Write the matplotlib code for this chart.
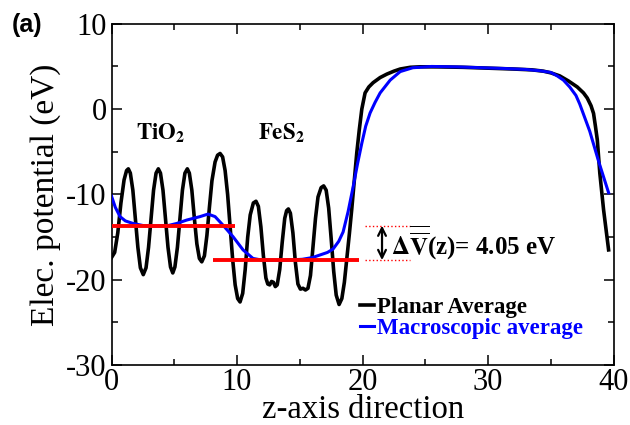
import matplotlib
matplotlib.use("Agg")
from matplotlib import pyplot as plt

plt.rcParams['font.family'] = ['Liberation Serif', 'DejaVu Serif']
plt.rcParams['mathtext.fontset'] = 'stix'
plt.rcParams['axes.unicode_minus'] = False

# planar average
z_planar = [0.00, 0.25, 0.50, 0.75, 1.00, 1.20, 1.34, 1.50, 1.70, 1.90, 2.10, 2.30, 2.53, 2.75, 2.95,
            3.15, 3.35, 3.55, 3.73, 3.90, 4.10, 4.30, 4.50, 4.70, 4.88, 5.05, 5.25, 5.45, 5.65, 5.85,
            6.04, 6.20, 6.40, 6.60, 6.80, 7.00, 7.19, 7.40, 7.60, 7.80, 8.00, 8.25, 8.45, 8.65, 8.85,
            9.05, 9.25, 9.45, 9.65, 9.85, 10.05, 10.24, 10.45, 10.65, 10.85, 11.05, 11.30, 11.51, 11.70,
            11.90, 12.10, 12.30, 12.45, 12.60, 12.75, 12.90, 13.05, 13.20, 13.40, 13.60, 13.80, 13.95,
            14.09, 14.25, 14.45, 14.65, 14.85, 15.05, 15.25, 15.45, 15.65, 15.85, 16.05, 16.25, 16.45,
            16.70, 16.90, 17.10, 17.30, 17.50, 17.70, 17.90, 18.13, 18.35, 18.55, 18.74, 18.95, 19.14,
            19.34, 19.54, 19.74, 19.94, 20.20, 20.50, 20.84, 21.40, 21.93, 22.50, 23.00, 23.80, 24.60,
            26.00, 28.00, 30.00, 32.00, 33.50, 34.40, 35.00, 35.70, 36.40, 37.10, 37.60, 37.90, 38.20,
            38.40, 38.55, 38.70, 38.90, 39.20, 39.50, 39.60]
v_planar = [-17.4, -16.8, -14.5, -11.0, -8.3, -7.2, -7.0, -7.5, -9.5, -12.8, -16.2, -18.6, -19.4, -18.6, -16.2,
            -12.8, -9.5, -7.5, -7.0, -7.5, -9.5, -12.8, -16.2, -18.5, -19.2, -18.5, -16.2, -12.8, -9.5, -7.5,
            -7.0, -7.5, -9.5, -12.8, -15.8, -17.5, -17.9, -17.2, -14.8, -11.5, -8.4, -6.2, -5.4, -5.2, -5.6,
            -7.2, -10.0, -13.8, -17.6, -20.6, -22.2, -22.6, -21.6, -18.8, -15.0, -12.4, -11.0, -10.8, -11.4,
            -13.8, -17.2, -19.8, -20.5, -20.6, -20.2, -20.3, -20.8, -20.6, -18.8, -15.6, -12.8, -11.9,
            -11.7, -12.2, -14.5, -18.0, -20.5, -21.1, -21.0, -21.2, -21.0, -19.5, -16.2, -12.8, -10.3,
            -9.2, -9.0, -9.5, -11.6, -15.2, -19.0, -21.8, -22.9, -22.2, -20.3, -17.6, -14.6, -11.7,
            -8.4, -5.1, -2.4, 0.0, 1.9, 2.6, 3.1, 3.7, 4.1, 4.45, 4.7, 4.9, 4.96,
            4.95, 4.9, 4.8, 4.7, 4.6, 4.45, 4.25, 3.9, 3.3, 2.6, 1.9, 1.3, 0.4,
            -0.5, -2.0, -3.6, -7.5, -11.8, -15.3, -16.5]

# macroscopic average
z_macro = [0.00, 0.30, 0.68, 1.10, 1.71, 2.53, 3.50, 4.50, 5.20, 6.00, 7.05, 7.69, 8.25, 8.88, 9.68,
           10.48, 11.27, 12.00, 14.00, 15.20, 16.00, 16.60, 17.20, 17.65, 18.10, 18.45, 18.85, 19.25,
           19.60, 19.94, 20.25, 20.60, 21.00, 21.40, 22.20, 23.00, 24.00, 25.50, 27.50, 29.50, 31.50,
           33.00, 34.10, 35.00, 35.50, 36.00, 36.50, 37.00, 37.30, 37.70, 38.10, 38.80, 39.60]
v_macro = [-10.2, -11.5, -12.6, -13.1, -13.4, -13.65, -13.7, -13.65, -13.4, -13.0, -12.6, -12.3, -12.6, -13.6, -14.95,
           -16.5, -17.5, -17.7, -17.7, -17.6, -17.4, -17.1, -16.8, -16.4, -15.5, -14.4, -12.0, -9.1,
           -6.4, -4.0, -2.0, -0.45, 0.8, 1.9, 3.4, 4.4, 4.85, 5.0, 4.95, 4.85, 4.75,
           4.65, 4.5, 4.3, 3.9, 3.4, 2.6, 1.6, 0.6, -1.0, -2.6, -6.1, -9.8]

# average levels of the two regions
red_levels = [-13.65, -17.7]
red_start = [0.0, 8.1]
red_end = [9.85, 19.7]
delta_v = 4.05

fig = plt.figure(figsize=(6.3, 4.25), dpi=100)
ax = fig.add_axes([0.177, 0.141, 0.797, 0.803])

ax.plot(z_planar, v_planar, color='black', lw=2.6, zorder=3, label='Planar Average')
ax.plot(z_macro, v_macro, color='#0000ff', lw=2.2, zorder=4, label='Macroscopic average')
ax.hlines(red_levels, red_start, red_end, colors='red', lw=2.8, zorder=5)

# offset marker
ax.hlines(red_levels, 20.2, 23.8, colors='red', lw=1.0, linestyles=':')
ax.annotate('', xy=(21.55, red_levels[0]), xytext=(21.55, red_levels[1]),
            arrowprops=dict(arrowstyle='<->', color='black', lw=1.6, mutation_scale=14,
                            shrinkA=0, shrinkB=0))
ax.text(22.3, (red_levels[0] + red_levels[1]) / 2,
        r'$\mathbf{\Delta}\overline{\overline{\mathbf{V}}}$(z)= %.2f eV' % delta_v,
        fontsize=18, fontweight='bold', va='center', ha='left')

ax.text(3.9, -2.8, r'$\mathbf{TiO_2}$', fontsize=16.5, ha='center', va='center')
ax.text(13.5, -2.8, r'$\mathbf{FeS_2}$', fontsize=16.5, ha='center', va='center')

ax.legend(loc='center left', bbox_to_anchor=(0.494, 0.139), frameon=False,
          prop={'weight': 'bold', 'size': 16.5}, labelcolor='linecolor',
          handlelength=0.65, handletextpad=0.1, labelspacing=0.0,
          borderpad=0, borderaxespad=0)

ax.set_xlim(0, 40)
ax.set_ylim(-30, 10)
ax.set_xticks([0, 10, 20, 30, 40])
ax.set_yticks([-30, -20, -10, 0, 10])
ax.set_xticks([5, 15, 25, 35], minor=True)
ax.set_yticks([-25, -15, -5, 5], minor=True)
ax.tick_params(which='both', direction='in', top=True, right=True, labelsize=22, width=1.1)
ax.tick_params(which='major', length=7)
ax.tick_params(which='minor', length=4)
ax.tick_params(axis='x', pad=2)
for s in ax.spines.values():
    s.set_linewidth(1.2)

ax.set_xlabel('z-axis direction', fontsize=23.5)
ax.xaxis.set_label_coords(0.5, -0.086)
ax.set_ylabel('Elec. potential (eV)', fontsize=24, labelpad=4)

fig.text(0.018, 0.941, '(a)', fontsize=18, fontweight='bold', family='Liberation Sans', va='center')

fig.savefig('out.png', dpi=100)
